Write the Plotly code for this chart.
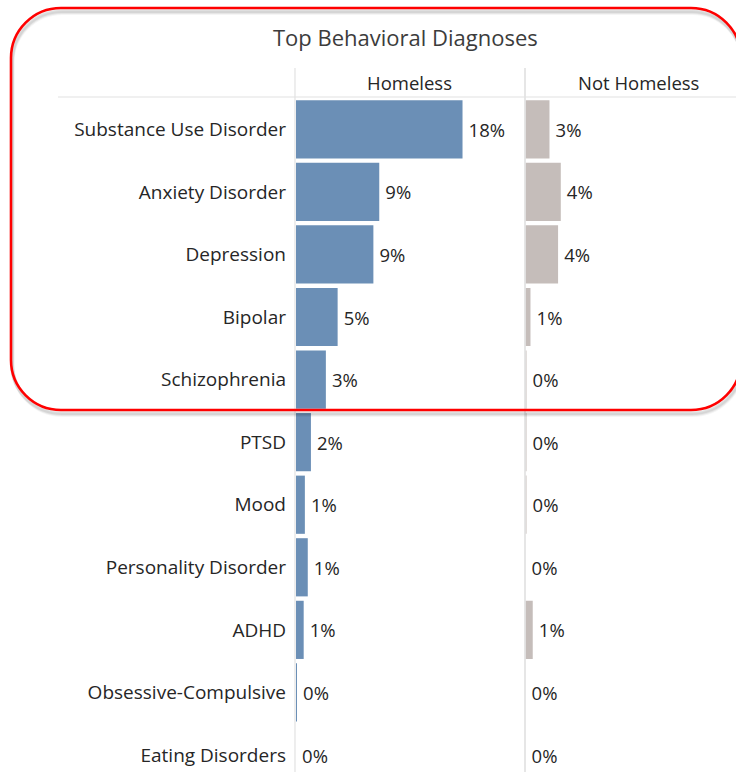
import plotly.graph_objects as go

# Share of patients with each behavioral diagnosis
diagnoses = [
    "Substance Use Disorder", "Anxiety Disorder", "Depression", "Bipolar",
    "Schizophrenia", "PTSD", "Mood", "Personality Disorder", "ADHD",
    "Obsessive-Compulsive", "Eating Disorders",
]
homeless = [0.184, 0.092, 0.0855, 0.046, 0.033, 0.0165, 0.0098, 0.013, 0.0085, 0.001, 0.0]
not_homeless = [0.0265, 0.039, 0.036, 0.0055, 0.001, 0.001, 0.001, 0.0, 0.008, 0.0, 0.0]
panel_titles = ["Homeless", "Not Homeless"]
chart_title = "Top Behavioral Diagnoses"

W, H = 736, 772
PX_PER_UNIT = 905.0  # pixels per 100% on both panels


def px(x):
    return x / W


def py(y):
    return 1 - y / H


def pct(v):
    return f"{int(v * 100 + 0.5)}%"


def rounded_rect(x0, y0, x1, y1, r):
    k = 0.5523 * r
    pts = [
        ("M", [(x0 + r, y0)]),
        ("L", [(x1 - r, y0)]),
        ("C", [(x1 - r + k, y0), (x1, y0 + r - k), (x1, y0 + r)]),
        ("L", [(x1, y1 - r)]),
        ("C", [(x1, y1 - r + k), (x1 - r + k, y1), (x1 - r, y1)]),
        ("L", [(x0 + r, y1)]),
        ("C", [(x0 + r - k, y1), (x0, y1 - r + k), (x0, y1 - r)]),
        ("L", [(x0, y0 + r)]),
        ("C", [(x0, y0 + r - k), (x0 + r - k, y0), (x0 + r, y0)]),
    ]
    out = []
    for cmd, coords in pts:
        out.append(cmd + " " + " ".join(f"{px(a):.5f},{py(b):.5f}" for a, b in coords))
    return " ".join(out) + " Z"


FONT = "Open Sans"
TXT = "#262626"
LABEL_SIZE = 18.5

fig = go.Figure()
fig.add_trace(go.Bar(
    y=diagnoses, x=homeless, orientation="h", xaxis="x", yaxis="y",
    marker=dict(color="#6b8fb6", line=dict(width=0)),
    text=["\u2009" + pct(v) for v in homeless], textposition="outside",
    textfont=dict(size=LABEL_SIZE, color=TXT, family=FONT), cliponaxis=False,
    constraintext="none", hoverinfo="skip", showlegend=False,
))
fig.add_trace(go.Bar(
    y=diagnoses, x=not_homeless, orientation="h", xaxis="x2", yaxis="y",
    marker=dict(color="#c5bdba", line=dict(width=0)),
    text=["\u2009" + pct(v) for v in not_homeless], textposition="outside",
    textfont=dict(size=LABEL_SIZE, color=TXT, family=FONT), cliponaxis=False,
    constraintext="none", hoverinfo="skip", showlegend=False,
))

row_px = 62.6
first_center = 129.0
top_px = 98.0
bottom_idx = (H - first_center) / row_px

shapes = []
# pane dividers and header rule
shapes.append(dict(type="line", xref="paper", yref="paper", x0=px(295), x1=px(295),
                   y0=py(68), y1=py(H), line=dict(color="#e2e2e2", width=1.2)))
shapes.append(dict(type="line", xref="paper", yref="paper", x0=px(525), x1=px(525),
                   y0=py(68), y1=py(H), line=dict(color="#d6d6d6", width=1.2)))
shapes.append(dict(type="line", xref="paper", yref="paper", x0=px(58), x1=px(W),
                   y0=py(97), y1=py(97), line=dict(color="#e2e2e2", width=1.2)))
# soft shadow under the highlight frame
for off, alpha in [(5, 0.04), (4, 0.06), (3, 0.07)]:
    shapes.append(dict(type="path", xref="paper", yref="paper", layer="above",
                       path=rounded_rect(11 + off * 0.3, 8 + off, 741 + off * 0.3, 410 + off, 50),
                       line=dict(color=f"rgba(0,0,0,{alpha})", width=4)))
shapes.append(dict(type="path", xref="paper", yref="paper", layer="above",
                   path=rounded_rect(11, 8, 741, 410, 50),
                   line=dict(color="#ff0000", width=2.6)))

annotations = [
    dict(text=panel_titles[0], x=px(409), y=py(83), xref="paper", yref="paper",
         xanchor="center", yanchor="middle",
         showarrow=False, font=dict(size=LABEL_SIZE, color=TXT, family=FONT)),
    dict(text=panel_titles[1], x=px(638), y=py(83), xref="paper", yref="paper",
         xanchor="center", yanchor="middle",
         showarrow=False, font=dict(size=LABEL_SIZE, color=TXT, family=FONT)),
    dict(text=chart_title, x=px(406), y=py(37), xref="paper", yref="paper",
         xanchor="center", yanchor="middle",
         showarrow=False, font=dict(size=22, color="#3c3c3c", family=FONT)),
]

fig.update_layout(
    width=W, height=H,
    margin=dict(l=0, r=0, t=0, b=0),
    paper_bgcolor="white", plot_bgcolor="rgba(0,0,0,0)",
    bargap=0.07,
    xaxis=dict(domain=[px(296), px(524)], range=[0, 228 / PX_PER_UNIT],
               showgrid=False, zeroline=False, showticklabels=False, fixedrange=True),
    xaxis2=dict(domain=[px(525.5), 1], range=[0, (W - 525.5) / PX_PER_UNIT],
                showgrid=False, zeroline=False, showticklabels=False, fixedrange=True),
    yaxis=dict(domain=[0, py(top_px)], type="category",
               range=[bottom_idx, -0.5], anchor="x",
               showgrid=False, zeroline=False, showline=False,
               ticks="", ticklabelstandoff=9,
               tickfont=dict(size=19, color=TXT, family=FONT)),
    shapes=shapes,
    annotations=annotations,
)

fig.write_html("out.html")
